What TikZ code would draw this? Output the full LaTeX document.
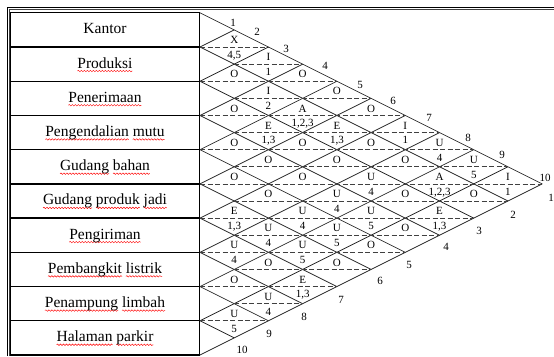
\documentclass[tikz,border=0pt]{standalone}
\usepackage{fontspec}
\setmainfont{Liberation Serif}
\usetikzlibrary{decorations.pathmorphing}
\newsavebox\sqbox
\newlength\sqlen
% red wavy underline under one word (spell-check mark)
\newcommand\sqw[1]{\sbox\sqbox{#1}\setlength\sqlen{\wd\sqbox}%
  \rlap{\tikz[overlay,x=1pt,y=1pt,baseline=0pt]{\draw[red,line width=0.45pt,
    decorate,decoration={snake,amplitude=0.75pt,segment length=3pt}] (0,-3) -- (\sqlen,-3);}}%
  \usebox\sqbox}
% pair (i,j): centre x = 200 + h (j-i), centre y = y0 + h/2 (i+j-1)
\newcommand\pairtop[3]{\node[code] (t#1-#2) at ({200+34.22*(#2-#1)},{12.8+17.11*(#1+#2-1)-3.4}) {#3};}
\newcommand\pairbot[3]{\node[code] (b#1-#2) at ({200+34.22*(#2-#1)},{12.8+17.11*(#1+#2-1)+11.4}) {#3};}
\begin{document}
\begin{tikzpicture}[x=1pt,y=-1pt,
  gridline/.style={line width=0.75pt, draw=black!85},
  dashline/.style={line width=0.75pt, draw=black!75, dash pattern=on 5pt off 2.5pt},
  code/.style={font=\fontsize{11}{12}\selectfont, inner sep=0pt, anchor=base},
  edgenum/.style={font=\fontsize{11}{12}\selectfont, inner sep=0pt},
  rowlabel/.style={font=\fontsize{15.5}{17}\selectfont, inner sep=0pt, anchor=base},
  tablebox/.style={line width=1.3pt, draw=black}]
\useasboundingbox (0,0) rectangle (554,356);
% outer frame (double line)
\draw[line width=0.7pt] (7.4,356) -- (7.4,7.4) -- (554,7.4);
\draw[line width=0.7pt, black!75] (9.2,356) -- (9.2,9.2) -- (554,9.2);
% table of departments
\draw[tablebox] (10.6,12.8) rectangle (199.5,355);
\foreach \k in {1,...,9} {
  \draw[tablebox] (10.6,{12.8+34.22*\k}) -- (199.5,{12.8+34.22*\k});
}
\node[rowlabel] (r1) at (105,{12.8+21}) {Kantor};
\node[rowlabel] (r2) at (105,{12.8+34.22+21}) {\sqw{Produksi}};
\node[rowlabel] (r3) at (105,{12.8+34.22*2+21}) {\sqw{Penerimaan}};
\node[rowlabel] (r4) at (105,{12.8+34.22*3+21}) {\sqw{Pengendalian} \sqw{mutu}};
\node[rowlabel] (r5) at (105,{12.8+34.22*4+21}) {\sqw{Gudang} \sqw{bahan}};
\node[rowlabel] (r6) at (105,{12.8+34.22*5+21}) {\sqw{Gudang} \sqw{produk} \sqw{jadi}};
\node[rowlabel] (r7) at (105,{12.8+34.22*6+21}) {\sqw{Pengiriman}};
\node[rowlabel] (r8) at (105,{12.8+34.22*7+21}) {\sqw{Pembangkit} \sqw{listrik}};
\node[rowlabel] (r9) at (105,{12.8+34.22*8+21}) {\sqw{Penampung} \sqw{limbah}};
\node[rowlabel] (r10) at (105,{12.8+34.22*9+21}) {\sqw{Halaman} \sqw{parkir}};
% diagonal lattice
\foreach \k in {0,...,10} {
  \pgfmathsetmacro\yk{12.8+34.22*\k}
  \ifnum\k<10
    \draw[gridline] (200,\yk) -- ({200+34.22*(10-\k)},{(\yk+355)/2});
  \fi
  \ifnum\k>0
    \draw[gridline] (200,\yk) -- ({200+34.22*\k},{(\yk+12.8)/2});
  \fi
}
% dashed middle lines of the diamonds
\foreach \s in {3,...,19} {
  \pgfmathsetmacro\yy{12.8+17.11*(\s-1)}
  \pgfmathtruncatemacro\dmin{2-mod(\s,2)}
  \pgfmathtruncatemacro\dmax{min(\s-2,20-\s)}
  \draw[dashline] ({200+34.22*(\dmin-1)},\yy) -- ({200+34.22*(\dmax+1)},\yy);
}
% relationship codes
\pairtop{1}{2}{X}\pairtop{1}{3}{I}\pairtop{1}{4}{O}\pairtop{1}{5}{O}\pairtop{1}{6}{O}
\pairtop{1}{7}{I}\pairtop{1}{8}{U}\pairtop{1}{9}{U}\pairtop{1}{10}{I}
\pairtop{2}{3}{O}\pairtop{2}{4}{I}\pairtop{2}{5}{A}\pairtop{2}{6}{E}\pairtop{2}{7}{O}
\pairtop{2}{8}{O}\pairtop{2}{9}{A}\pairtop{2}{10}{O}
\pairtop{3}{4}{O}\pairtop{3}{5}{E}\pairtop{3}{6}{O}\pairtop{3}{7}{O}\pairtop{3}{8}{U}
\pairtop{3}{9}{O}\pairtop{3}{10}{E}
\pairtop{4}{5}{O}\pairtop{4}{6}{O}\pairtop{4}{7}{O}\pairtop{4}{8}{U}\pairtop{4}{9}{U}\pairtop{4}{10}{O}
\pairtop{5}{6}{O}\pairtop{5}{7}{O}\pairtop{5}{8}{U}\pairtop{5}{9}{U}\pairtop{5}{10}{O}
\pairtop{6}{7}{E}\pairtop{6}{8}{U}\pairtop{6}{9}{U}\pairtop{6}{10}{O}
\pairtop{7}{8}{U}\pairtop{7}{9}{O}\pairtop{7}{10}{E}
\pairtop{8}{9}{O}\pairtop{8}{10}{U}
\pairtop{9}{10}{U}
% reasons
\pairbot{1}{2}{4,5}\pairbot{1}{3}{1}\pairbot{1}{7}{1}\pairbot{1}{8}{4}\pairbot{1}{9}{5}\pairbot{1}{10}{1}
\pairbot{2}{4}{2}\pairbot{2}{5}{1,2,3}\pairbot{2}{6}{1,3}\pairbot{2}{9}{1,2,3}
\pairbot{3}{5}{1,3}\pairbot{3}{8}{4}\pairbot{3}{10}{1,3}
\pairbot{4}{8}{4}\pairbot{4}{9}{5}
\pairbot{5}{8}{4}\pairbot{5}{9}{5}
\pairbot{6}{7}{1,3}\pairbot{6}{8}{4}\pairbot{6}{9}{5}
\pairbot{7}{8}{4}\pairbot{7}{10}{1,3}
\pairbot{8}{10}{4}
\pairbot{9}{10}{5}
% numbers along the upper edge
\node[edgenum] (tn1) at (233,23) {1};
\node[edgenum] (tn2) at (257,32) {2};
\node[edgenum] (tn3) at (286,49) {3};
\node[edgenum] (tn4) at (325,66) {4};
\node[edgenum] (tn5) at (360,85) {5};
\node[edgenum] (tn6) at (393,101) {6};
\node[edgenum] (tn7) at (429,118) {7};
\node[edgenum] (tn8) at (468,138) {8};
\node[edgenum] (tn9) at (502,155) {9};
\node[edgenum] (tn10) at (545,178) {10};
% numbers along the lower edge
\node[edgenum] (bn1) at (551,198) {1};
\node[edgenum] (bn2) at (513,215) {2};
\node[edgenum] (bn3) at (479,231) {3};
\node[edgenum] (bn4) at (446,247) {4};
\node[edgenum] (bn5) at (409,265) {5};
\node[edgenum] (bn6) at (380,281) {6};
\node[edgenum] (bn7) at (341,300) {7};
\node[edgenum] (bn8) at (304,317) {8};
\node[edgenum] (bn9) at (269,334) {9};
\node[edgenum] (bn10) at (242,350) {10};
\end{tikzpicture}
\end{document}
